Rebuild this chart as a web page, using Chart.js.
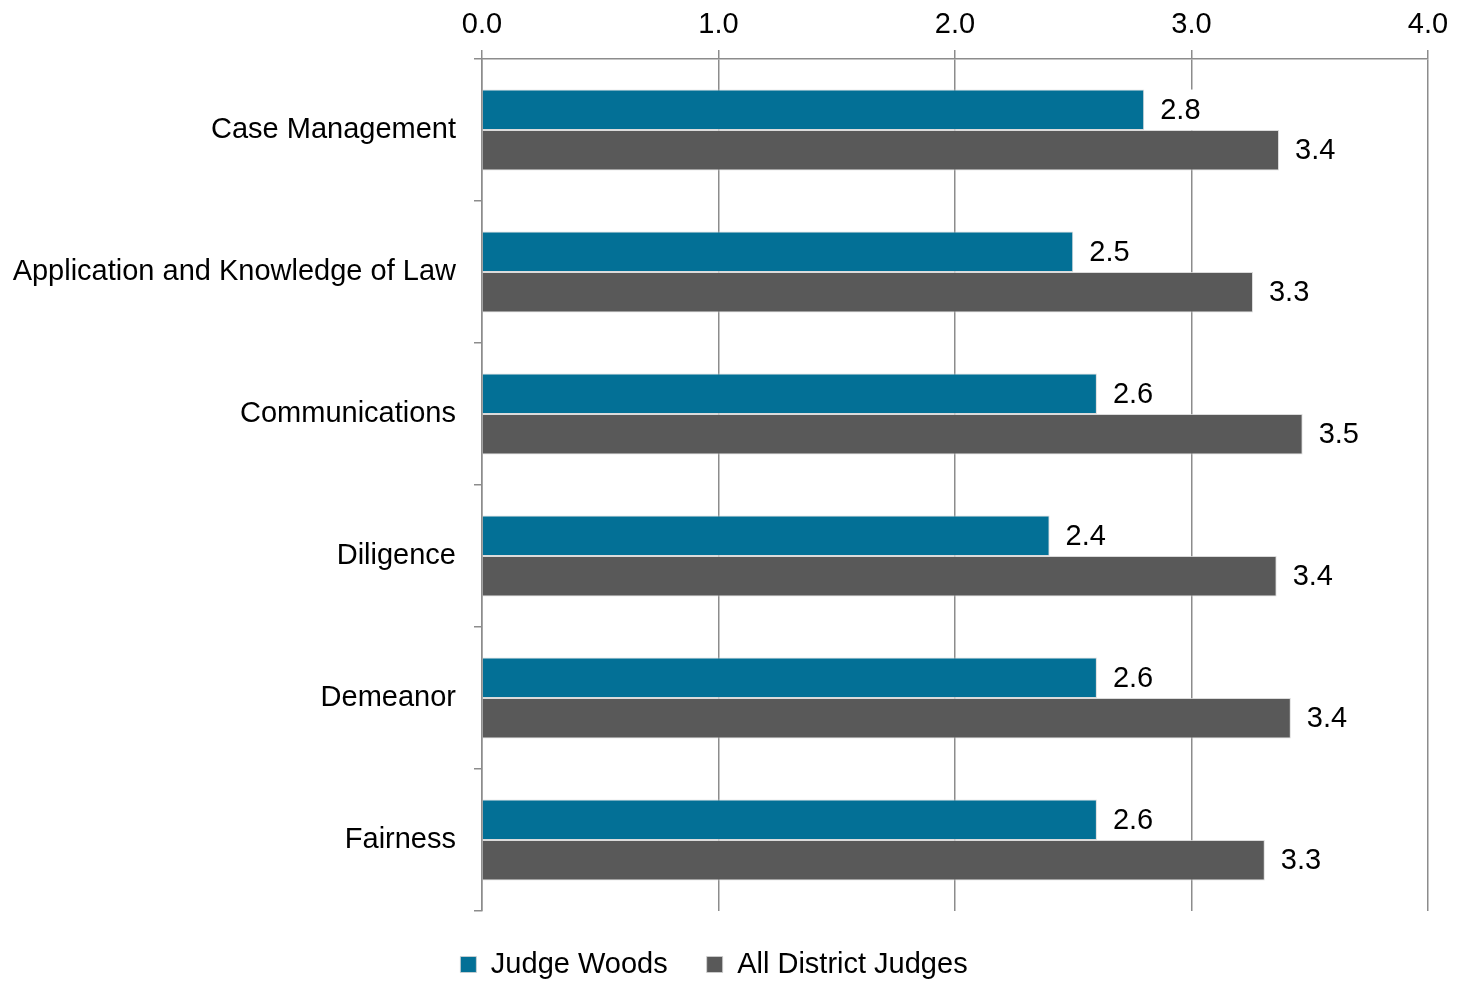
<!DOCTYPE html>
<html>
<head>
<meta charset="utf-8">
<script src="https://cdn.jsdelivr.net/npm/chart.js@4.4.1/dist/chart.umd.min.js"></script>
<style>
  html, body { margin: 0; padding: 0; background: #fff; }
  #wrap { width: 1468px; height: 981px; }
</style>
</head>
<body>
<div id="wrap"><canvas id="chart"></canvas></div>
<script>
let categories = [
  "Case Management",
  "Application and Knowledge of Law",
  "Communications",
  "Diligence",
  "Demeanor",
  "Fairness"
];
let judgeWoods = [2.8, 2.5, 2.6, 2.4, 2.6, 2.6];
let allDistrict = [3.37, 3.26, 3.47, 3.36, 3.42, 3.31];
let xTicks = [0, 1, 2, 3, 4];

let fontName = "'Liberation Sans', Arial, sans-serif";
let gridColor = "#8c8c8c";

// value labels with a white box behind them
let valueLabels = {
  id: "valueLabels",
  afterDatasetsDraw(chart) {
    let ctx = chart.ctx;
    ctx.save();
    ctx.font = "29px " + fontName;
    ctx.textBaseline = "middle";
    chart.data.datasets.forEach((ds, i) => {
      let meta = chart.getDatasetMeta(i);
      meta.data.forEach((bar, j) => {
        let txt = ds.data[j].toFixed(1);
        let w = ctx.measureText(txt).width;
        let h = bar.height;
        ctx.fillStyle = "#ffffff";
        ctx.fillRect(bar.x + 7, bar.y - h / 2, w + 18, h);
        ctx.fillStyle = "#000000";
        ctx.fillText(txt, bar.x + 16, bar.y + 1);
      });
    });
    ctx.restore();
  }
};

let myChart = new Chart(document.getElementById("chart"), {
  type: "bar",
  data: {
    labels: categories,
    datasets: [
      {
        label: "Judge Woods",
        data: judgeWoods,
        backgroundColor: "#037096",
        borderColor: "rgba(210,210,210,0.8)",
        borderWidth: 1,
        categoryPercentage: 0.57,
        barPercentage: 1.0
      },
      {
        label: "All District Judges",
        data: allDistrict,
        backgroundColor: "#595959",
        borderColor: "rgba(210,210,210,0.8)",
        borderWidth: 1,
        categoryPercentage: 0.57,
        barPercentage: 1.0
      }
    ]
  },
  options: {
    indexAxis: "y",
    responsive: true,
    maintainAspectRatio: false,
    animation: false,
    layout: { padding: { left: 0, right: 40, top: 0, bottom: -8 } },
    scales: {
      x: {
        position: "top",
        min: 0,
        max: 4,
        afterBuildTicks(scale) {
          scale.ticks = xTicks.map(v => ({ value: v }));
        },
        afterFit(scale) {
          scale.height = 59;
        },
        ticks: {
          color: "#000",
          font: { family: fontName, size: 29 },
          padding: 8,
          callback: v => Number(v).toFixed(1)
        },
        grid: { color: gridColor, lineWidth: 1.5, tickLength: 9 },
        border: { color: gridColor, width: 1.5 }
      },
      y: {
        afterFit(scale) {
          scale.width = 482;
        },
        ticks: {
          color: "#000",
          font: { family: fontName, size: 29 },
          padding: 18
        },
        grid: {
          drawOnChartArea: false,
          offset: true,
          color: gridColor,
          lineWidth: 1.5,
          tickLength: 8
        },
        border: { color: gridColor, width: 1.5 }
      }
    },
    plugins: {
      legend: {
        position: "bottom",
        labels: {
          color: "#000",
          font: { family: fontName, size: 29 },
          boxWidth: 16,
          boxHeight: 16,
          padding: 39
        }
      },
      tooltip: { enabled: false }
    }
  },
  plugins: [valueLabels]
});
</script>
</body>
</html>
